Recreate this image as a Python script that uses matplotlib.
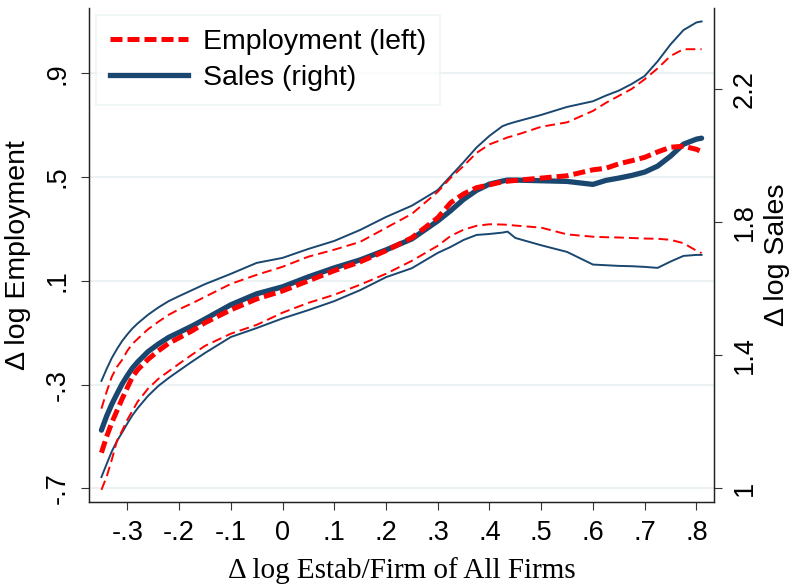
import matplotlib
matplotlib.use("Agg")
import matplotlib.pyplot as plt

# x grid (Δ log Estab/Firm of All Firms)
x = [-0.35, -0.34, -0.33, -0.32, -0.31, -0.30, -0.29, -0.28, -0.26, -0.24,
     -0.22, -0.20, -0.175, -0.15, -0.10, -0.05, 0.00, 0.05, 0.10, 0.15,
     0.20, 0.25, 0.30, 0.325, 0.35, 0.375, 0.40, 0.425, 0.435, 0.45,
     0.50, 0.55, 0.60, 0.625, 0.65, 0.675, 0.70, 0.725, 0.75, 0.775,
     0.80, 0.81]

# Employment (left axis)
emp = [-0.563, -0.501, -0.447, -0.401, -0.355, -0.312, -0.270, -0.243, -0.203, -0.170,
       -0.141, -0.120, -0.093, -0.062, -0.012, 0.030, 0.061, 0.100, 0.139, 0.173,
       0.216, 0.266, 0.343, 0.401, 0.435, 0.459, 0.470, 0.482, 0.484, 0.487,
       0.496, 0.505, 0.528, 0.534, 0.551, 0.563, 0.576, 0.597, 0.615, 0.619,
       0.607, 0.598]
emp_hi = [-0.393, -0.328, -0.270, -0.232, -0.205, -0.170, -0.143, -0.124, -0.087, -0.058,
          -0.031, -0.010, 0.013, 0.038, 0.088, 0.123, 0.154, 0.193, 0.220, 0.250,
          0.304, 0.358, 0.443, 0.497, 0.543, 0.593, 0.626, 0.645, 0.653, 0.661,
          0.694, 0.711, 0.755, 0.786, 0.813, 0.840, 0.877, 0.919, 0.967, 0.993,
          0.993, 0.993]
emp_lo = [-0.706, -0.656, -0.590, -0.517, -0.478, -0.436, -0.401, -0.366, -0.316, -0.278,
          -0.249, -0.220, -0.185, -0.151, -0.104, -0.070, -0.023, 0.015, 0.046, 0.085,
          0.127, 0.177, 0.235, 0.273, 0.297, 0.312, 0.318, 0.317, 0.316, 0.313,
          0.305, 0.279, 0.270, 0.268, 0.267, 0.265, 0.263, 0.262, 0.258, 0.245,
          0.216, 0.207]

# Sales (right axis)
sales = [1.175, 1.217, 1.253, 1.284, 1.314, 1.339, 1.362, 1.380, 1.411, 1.434,
         1.454, 1.469, 1.488, 1.509, 1.552, 1.585, 1.606, 1.636, 1.663, 1.687,
         1.717, 1.750, 1.804, 1.835, 1.869, 1.896, 1.915, 1.924, 1.927, 1.927,
         1.925, 1.923, 1.914, 1.926, 1.933, 1.941, 1.951, 1.969, 1.999, 2.035,
         2.050, 2.053]
sales_hi = [1.323, 1.359, 1.392, 1.419, 1.443, 1.463, 1.481, 1.496, 1.522, 1.544,
            1.563, 1.578, 1.596, 1.614, 1.645, 1.678, 1.693, 1.720, 1.744, 1.777,
            1.816, 1.850, 1.897, 1.939, 1.981, 2.025, 2.060, 2.089, 2.095, 2.102,
            2.123, 2.147, 2.164, 2.181, 2.196, 2.216, 2.240, 2.284, 2.335, 2.378,
            2.401, 2.404]
sales_lo = [1.034, 1.073, 1.111, 1.142, 1.168, 1.195, 1.220, 1.241, 1.278, 1.308,
            1.332, 1.354, 1.381, 1.407, 1.455, 1.482, 1.511, 1.536, 1.563, 1.596,
            1.635, 1.662, 1.708, 1.726, 1.747, 1.762, 1.765, 1.769, 1.772, 1.753,
            1.731, 1.711, 1.673, 1.671, 1.669, 1.668, 1.666, 1.663, 1.682, 1.699,
            1.702, 1.702]

xticks = [-0.3, -0.2, -0.1, 0, 0.1, 0.2, 0.3, 0.4, 0.5, 0.6, 0.7, 0.8]
xticklabels = ["-.3", "-.2", "-.1", "0", ".1", ".2", ".3", ".4", ".5", ".6", ".7", ".8"]
lticks = [-0.7, -0.3, 0.1, 0.5, 0.9]
lticklabels = ["-.7", "-.3", ".1", ".5", ".9"]
rticks = [1.0, 1.4, 1.8, 2.2]
rticklabels = ["1", "1.4", "1.8", "2.2"]

RED = "#ff0000"
NAVY = "#1a476f"
GRID = "#eaf2f3"
SANS = "Liberation Sans"
POS = [0.1124, 0.1448, 0.7891, 0.8416]

fig = plt.figure(figsize=(7.92, 5.87), dpi=100)
ax = fig.add_axes(POS)
ax2 = ax.twinx()

ax.set_xlim(-0.374, 0.834)
ax.set_ylim(-0.753, 1.152)
ax2.set_ylim(0.959, 2.4445)

for a in (ax, ax2):
    a.spines["top"].set_visible(False)
    for s in ("left", "right", "bottom"):
        a.spines[s].set_linewidth(0.9)
        a.spines[s].set_color("#222222")
    a.tick_params(direction="out", length=6, width=0.8, color="#333333",
                  labelsize=19.5, pad=7)

for yv in lticks:
    ax.axhline(yv, color=GRID, lw=1.5, zorder=0)

# sales on right axis
ax2.plot(x, sales_hi, color=NAVY, lw=1.4, zorder=2)
ax2.plot(x, sales_lo, color=NAVY, lw=1.4, zorder=2)
ax2.plot(x, sales, color=NAVY, lw=3.8, zorder=3, solid_capstyle="round")

# employment drawn on an overlay sharing the left scale, so it sits on top
ax_e = fig.add_axes(POS, sharex=ax, sharey=ax)
ax_e.axis("off")
ax_e.plot(x, emp_hi, color=RED, lw=1.4, dashes=(5, 2.6))
ax_e.plot(x, emp_lo, color=RED, lw=1.4, dashes=(5, 2.6))
h_emp, = ax_e.plot(x, emp, color=RED, lw=3.6, dashes=(2.4, 1.0),
                   label="Employment (left)")
h_sal, = ax_e.plot([], [], color=NAVY, lw=3.8, label="Sales (right)")

ax.set_xticks(xticks)
ax.set_xticklabels(xticklabels, family=SANS, fontsize=19.5)
ax.set_yticks(lticks)
ax.set_yticklabels(lticklabels, family=SANS, fontsize=19.5, rotation=90, va="center")
ax2.set_yticks(rticks)
ax2.set_yticklabels(rticklabels, family=SANS, fontsize=19.5, rotation=90, va="center")

ax.set_xlabel("\u0394 log Estab/Firm of All Firms", family="Liberation Serif",
              fontsize=21, labelpad=8)
ax.set_ylabel("\u0394 log Employment", family=SANS, fontsize=20.5, labelpad=10)
ax2.set_ylabel("\u0394 log Sales", family=SANS, fontsize=20.5, labelpad=4)

leg = ax_e.legend(handles=[h_emp, h_sal], loc="upper left",
                  bbox_to_anchor=(0.011, 0.986), borderaxespad=0,
                  prop={"family": SANS, "size": 20.5}, frameon=True,
                  fancybox=False, edgecolor=GRID, handlelength=2.75,
                  handletextpad=0.5, labelspacing=0.35, borderpad=0.5)
leg.get_frame().set_linewidth(1.2)

fig.savefig("out.png", dpi=100)
